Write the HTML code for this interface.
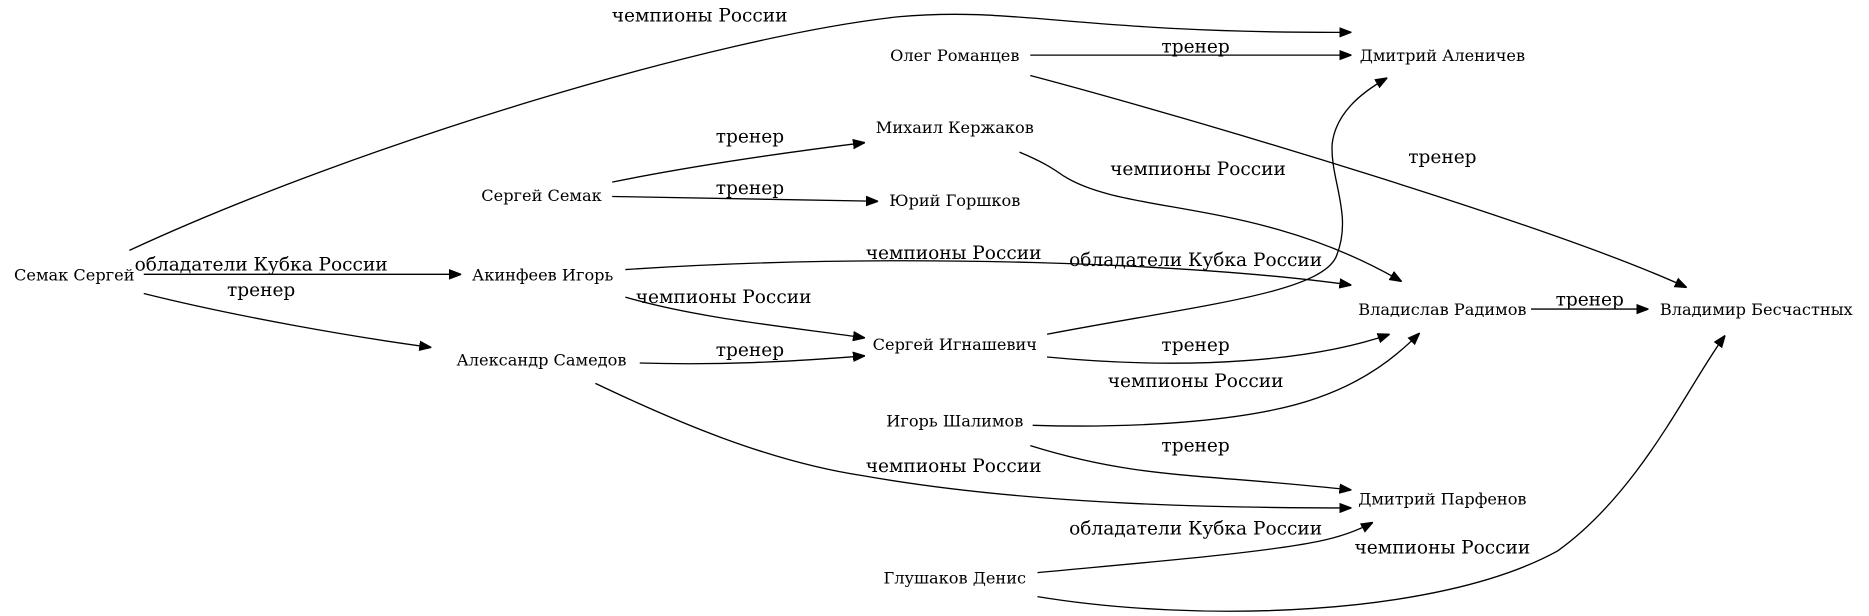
<!DOCTYPE html>
<html><head><meta charset="utf-8">
<style>
html,body{margin:0;padding:0;background:#fff;}
svg{display:block;}
.n{font-family:"DejaVu Serif","Liberation Serif",serif;font-size:13.5px;text-anchor:middle;fill:#000;}
.e{font-family:"DejaVu Serif","Liberation Serif",serif;font-size:15.5px;text-anchor:middle;fill:#000;}
path{fill:none;stroke:#000;stroke-width:1.1;}
</style></head><body>
<svg width="1869" height="616" viewBox="0 0 1869 616" xmlns="http://www.w3.org/2000/svg">
<defs>
<marker id="a" viewBox="0 0 10 10" refX="10" refY="5" markerWidth="10" markerHeight="10" markerUnits="userSpaceOnUse" orient="auto">
<path d="M0,1.2 L10,5 L0,8.8 z" style="fill:#000;stroke:#000;stroke-width:1"/>
</marker>
</defs>
<g transform="scale(1.198)">
<g marker-end="url(#a)">
<path d="M108,209 C300,120 600,30 750,14 C850,5 900,28 1128,27"/>
<path d="M120,229 L385,229"/>
<path d="M120,245 C200,265 300,282 360,290"/>
<path d="M511,152 C580,138 650,128 722,119"/>
<path d="M511,164 C600,166 680,167 733,168"/>
<path d="M860,46 L1128,46"/>
<path d="M860,63 C1000,100 1300,190 1408,240"/>
<path d="M851,127 C870,135 878,140 888,147 C940,180 1050,165 1170,235"/>
<path d="M522,225 C750,210 1000,220 1128,238"/>
<path d="M522,248 C580,265 650,272 722,282"/>
<path d="M534,303 C600,305 660,302 722,297"/>
<path d="M497,320 C560,350 640,385 720,397 C850,420 1000,424 1128,424"/>
<path d="M874,279 C1000,255 1100,245 1115,215 C1130,180 1110,150 1112,120 C1115,95 1135,78 1158,65"/>
<path d="M874,298 C1000,310 1100,300 1160,279"/>
<path d="M862,355 C960,358 1050,350 1100,332 C1140,318 1165,298 1185,278"/>
<path d="M860,372 C950,400 1000,395 1128,409"/>
<path d="M866,478 C950,470 1050,462 1100,452 C1120,448 1135,442 1146,436"/>
<path d="M866,498 C1000,520 1200,515 1300,460 C1370,410 1410,320 1440,280"/>
<path d="M1278,258 L1376,258"/>
</g>
<g class="e">
<text x="584" y="18">чемпионы России</text>
<text x="218" y="226">обладатели Кубка России</text>
<text x="218" y="247">тренер</text>
<text x="626" y="119">тренер</text>
<text x="626" y="162">тренер</text>
<text x="998" y="44">тренер</text>
<text x="1204" y="136">тренер</text>
<text x="1000" y="146">чемпионы России</text>
<text x="796" y="216">чемпионы России</text>
<text x="604" y="253">чемпионы России</text>
<text x="626" y="297">тренер</text>
<text x="796" y="394">чемпионы России</text>
<text x="998" y="222">обладатели Кубка России</text>
<text x="998" y="293">тренер</text>
<text x="998" y="323">чемпионы России</text>
<text x="998" y="377">тренер</text>
<text x="998" y="446">обладатели Кубка России</text>
<text x="1204" y="462">чемпионы России</text>
<text x="1327" y="255">тренер</text>
</g>
<g class="n">
<text x="62" y="234">Семак Сергей</text>
<text x="453" y="234">Акинфеев Игорь</text>
<text x="452" y="305">Александр Самедов</text>
<text x="452" y="168">Сергей Семак</text>
<text x="797" y="51">Олег Романцев</text>
<text x="797" y="111">Михаил Кержаков</text>
<text x="797" y="172">Юрий Горшков</text>
<text x="797" y="292">Сергей Игнашевич</text>
<text x="797" y="356">Игорь Шалимов</text>
<text x="797" y="487">Глушаков Денис</text>
<text x="1204" y="51">Дмитрий Аленичев</text>
<text x="1204" y="263">Владислав Радимов</text>
<text x="1204" y="421">Дмитрий Парфенов</text>
<text x="1466" y="263">Владимир Бесчастных</text>
</g>
</g>
</svg>
</body></html>
